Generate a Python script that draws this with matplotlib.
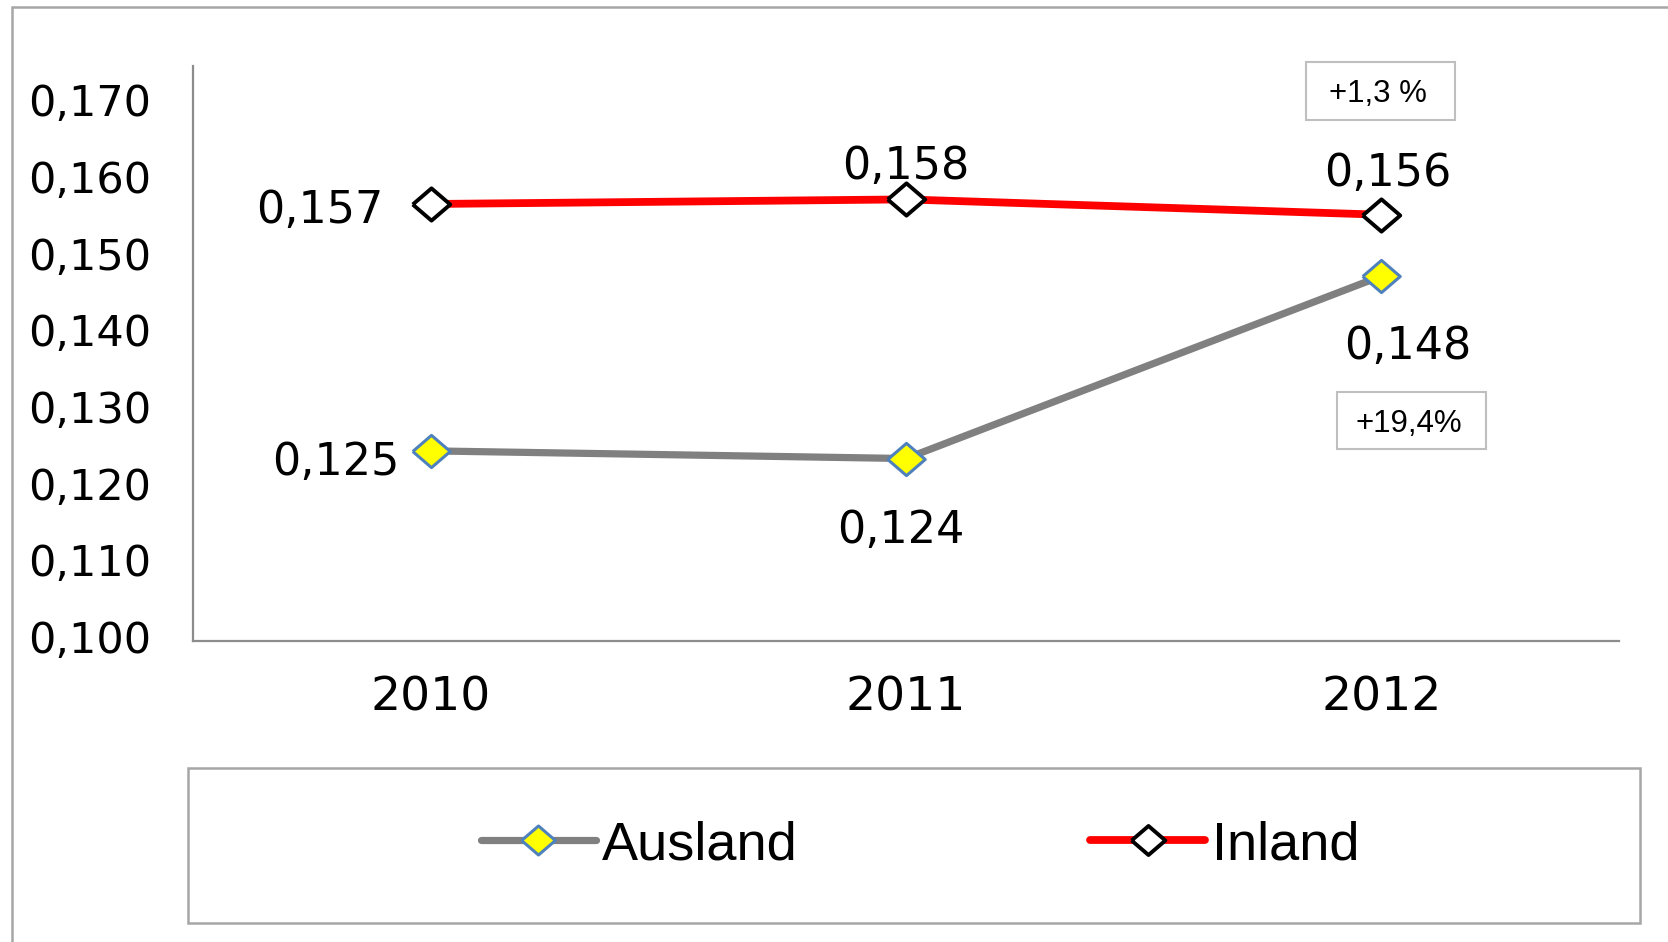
import matplotlib.pyplot as plt
from matplotlib.patches import Rectangle

# data
years = ['2010', '2011', '2012']
inland = [0.157, 0.1576, 0.1556]
ausland = [0.1248, 0.1238, 0.1476]
inland_change = '+1,3 %'
ausland_change = '+19,4%'
yticks = [0.100, 0.110, 0.120, 0.130, 0.140, 0.150, 0.160, 0.170]

# label offsets in pixels (dx, dy, ha)
inland_off = [(-47, -2, 'right'), (0, 37, 'center'), (6, 46, 'center')]
ausland_off = [(-31, -7, 'right'), (-5, -67, 'center'), (26, -66, 'center')]


def fmt(v):
    return f'{v:.3f}'.replace('.', ',')


fig = plt.figure(figsize=(16.68, 9.42), dpi=100)
W, H = 1668, 942

# outer frame
fig.patches.append(Rectangle((12 / W, -0.1), 1.2, 1.1 - 7 / H, transform=fig.transFigure,
                             fill=False, edgecolor='#a6a6a6', linewidth=1.8))

ax = fig.add_axes([193 / W, 1 - 641 / H, (1619 - 193) / W, (641 - 66) / H])
x = list(range(len(years)))

diamond = [(-1, 0), (0, 0.86), (1, 0), (0, -0.86), (-1, 0)]
ax.plot(x, ausland, color='#808080', lw=5.2, marker=diamond, markersize=27,
        markerfacecolor='#ffff00', markeredgecolor='#4f81bd', markeredgewidth=2.2,
        label='Ausland', solid_capstyle='round', zorder=3)
ax.plot(x, inland, color='#ff0000', lw=5.6, marker=diamond, markersize=27,
        markerfacecolor='white', markeredgecolor='black', markeredgewidth=2.8,
        label='Inland', solid_capstyle='round', zorder=3)

for vals, offs in [(inland, inland_off), (ausland, ausland_off)]:
    for i, v in enumerate(vals):
        dx, dy, ha = offs[i]
        ax.annotate(fmt(v), (x[i], v), xytext=(dx, dy), textcoords='offset pixels',
                    ha=ha, va='center_baseline', fontsize=32, family='DejaVu Sans')

ax.set_xlim(-0.5, 2.5)
ax.set_ylim(0.100, 0.175)
ax.set_yticks(yticks)
ax.set_yticklabels([fmt(t) for t in yticks], fontsize=31, family='DejaVu Sans', va='center')
ax.set_xticks(x)
ax.set_xticklabels(years, fontsize=34, family='DejaVu Sans')
ax.tick_params(axis='y', length=0, pad=30)
ax.tick_params(axis='x', length=0, pad=25)
for s in ['top', 'right']:
    ax.spines[s].set_visible(False)
for s in ['left', 'bottom']:
    ax.spines[s].set_color('#8c8c8c')
    ax.spines[s].set_linewidth(1.6)

# change boxes
for (x0, y0, x1, y1), txt in [((1306, 62, 1455, 120), inland_change),
                              ((1337, 392, 1486, 449), ausland_change)]:
    fig.patches.append(Rectangle((x0 / W, 1 - y1 / H), (x1 - x0) / W, (y1 - y0) / H,
                                 transform=fig.transFigure, facecolor='white',
                                 edgecolor='#bfbfbf', linewidth=1.5, zorder=5))
    fig.text((x0 + x1) / 2 / W - 3 / W, 1 - (y0 + y1) / 2 / H, txt, ha='center',
             va='center_baseline', fontsize=22.5, family='Liberation Sans', zorder=6)

# legend box
fig.patches.append(Rectangle((188 / W, 1 - 923 / H), (1640 - 188) / W, (923 - 768) / H,
                             transform=fig.transFigure, fill=False,
                             edgecolor='#a6a6a6', linewidth=1.8))
leg = fig.legend(loc='center', bbox_to_anchor=((188 + 1640) / 2 / W + 6 / W, 1 - 845 / H),
                 ncol=2, frameon=False, markerscale=0.9, handlelength=2.12,
                 handletextpad=0.12, columnspacing=5.4,
                 prop={'family': 'Liberation Sans', 'size': 39})

plt.savefig('out.png', dpi=100)
